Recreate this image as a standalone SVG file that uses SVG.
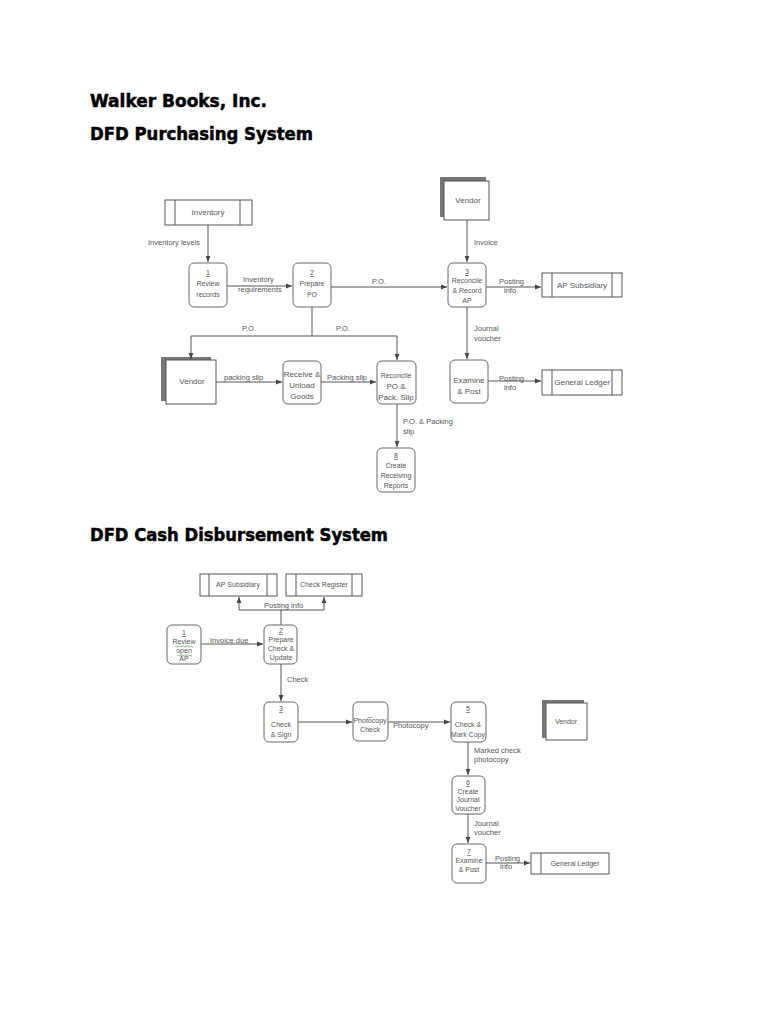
<svg xmlns="http://www.w3.org/2000/svg" width="768" height="1024" viewBox="0 0 768 1024">
<defs>
<marker id="ah" viewBox="0 0 10 10" refX="10" refY="5" markerWidth="6" markerHeight="6" orient="auto" markerUnits="userSpaceOnUse">
<path d="M0,1 L10,5 L0,9 z" fill="#444"/>
</marker>
</defs>
<style>
.title{font-family:"DejaVu Sans","Liberation Sans",sans-serif;font-weight:bold;font-size:17px;fill:#000;stroke:#000;stroke-width:0.5}
.p{fill:#fff;stroke:#666;stroke-width:1}
.s{fill:#fff;stroke:#555;stroke-width:1}
.sl{stroke:#555;stroke-width:1}
.sh{fill:#777}
.t{font-family:"Liberation Sans",Arial,sans-serif;font-size:7px;fill:#555;text-anchor:middle}
.ts{font-family:"Liberation Sans",Arial,sans-serif;font-size:8px;fill:#555;text-anchor:middle}
.l{font-family:"Liberation Sans",Arial,sans-serif;font-size:7.5px;fill:#555}
.c{fill:none;stroke:#555;stroke-width:1}
.ca{fill:none;stroke:#555;stroke-width:1;marker-end:url(#ah)}
.u{text-decoration:underline}
</style>
<rect width="768" height="1024" fill="#fff"/>
<text class="title" x="90" y="107" textLength="177" lengthAdjust="spacingAndGlyphs">Walker Books, Inc.</text>
<text class="title" x="90" y="140" textLength="223" lengthAdjust="spacingAndGlyphs">DFD Purchasing System</text>
<text class="title" x="90" y="541" textLength="298" lengthAdjust="spacingAndGlyphs">DFD Cash Disbursement System</text>

<!-- Purchasing nodes -->
<g id="inventory"><rect class="s" x="165" y="200" width="87" height="25"/><line class="sl" x1="175" y1="200" x2="175" y2="225"/><line class="sl" x1="240" y1="200" x2="240" y2="225"/><text class="ts" x="208" y="215">Inventory</text></g>
<g id="p1"><rect class="p" x="189" y="263" width="38" height="44" rx="5"/><text class="t u" x="208" y="275">1</text><text class="t" x="208" y="286">Review</text><text class="t" x="208" y="297">records</text></g>
<g id="p2"><rect class="p" x="293" y="263" width="38" height="44" rx="5"/><text class="t u" x="312" y="275">2</text><text class="t" x="312" y="286">Prepare</text><text class="t" x="312" y="297">PO</text></g>
<g id="vendor1"><rect class="sh" x="440" y="177" width="46" height="40"/><rect class="s" x="444" y="181" width="45" height="39"/><text class="ts" x="468" y="203">Vendor</text></g>
<g id="p3"><rect class="p" x="448" y="263" width="38" height="44" rx="5"/><text class="t u" x="467" y="274">3</text><text class="t" x="467" y="283">Reconcile</text><text class="t" x="467" y="293">&amp; Record</text><text class="t" x="467" y="303">AP</text></g>
<g id="apsub1"><rect class="s" x="542" y="273" width="80" height="24"/><line class="sl" x1="552" y1="273" x2="552" y2="297"/><line class="sl" x1="612" y1="273" x2="612" y2="297"/><text class="ts" x="582" y="288">AP Subsidiary</text></g>
<g id="exam1"><rect class="p" x="450" y="360" width="38" height="43" rx="5"/><text class="ts" x="469" y="383">Examine</text><text class="ts" x="469" y="394">&amp; Post</text></g>
<g id="gl1"><rect class="s" x="542" y="370" width="80" height="25"/><line class="sl" x1="552" y1="370" x2="552" y2="395"/><line class="sl" x1="612" y1="370" x2="612" y2="395"/><text class="ts" x="582" y="385">General Ledger</text></g>
<g id="vendor2"><rect class="sh" x="161" y="357" width="50" height="44"/><rect class="s" x="166" y="360" width="50" height="44"/><text class="ts" x="192" y="384">Vendor</text></g>
<g id="receive"><rect class="p" x="283" y="361" width="38" height="43" rx="5"/><text class="ts" x="302" y="377">Receive &amp;</text><text class="ts" x="302" y="388">Unload</text><text class="ts" x="302" y="399">Goods</text></g>
<g id="recpo"><rect class="p" x="377" y="361" width="39" height="43" rx="5"/><text class="t" x="396" y="378">Reconcile</text><text class="ts" x="396" y="389">PO &amp;</text><text class="ts" x="396" y="400">Pack. Slip</text></g>
<g id="p8"><rect class="p" x="377" y="448" width="38" height="44" rx="5"/><text class="t u" x="396" y="458">8</text><text class="t" x="396" y="468">Create</text><text class="t" x="396" y="478">Receiving</text><text class="t" x="396" y="488">Reports</text></g>

<!-- Cash nodes -->
<g id="apsub2"><rect class="s" x="200" y="574" width="77" height="22"/><line class="sl" x1="209" y1="574" x2="209" y2="596"/><line class="sl" x1="267" y1="574" x2="267" y2="596"/><text class="t" x="238" y="587">AP Subsidiary</text></g>
<g id="checkreg"><rect class="s" x="286" y="574" width="76" height="22"/><line class="sl" x1="296" y1="574" x2="296" y2="596"/><line class="sl" x1="352" y1="574" x2="352" y2="596"/><text class="t" x="324" y="587">Check Register</text></g>
<g id="c1"><rect class="p" x="167" y="625" width="34" height="39" rx="5"/><text class="t u" x="184" y="635">1</text><text class="t" x="184" y="644">Review</text><text class="t" x="184" y="653">open</text><text class="t" x="184" y="661">AP</text><path d="M175,646 l2,1 l2,-1 l2,1 l2,-1 l2,1 l2,-1 l2,1 l2,-1 l2,1 M178,655 l2,1 l2,-1 l2,1 l2,-1 l2,1 l2,-1 l2,1" fill="none" stroke="#5a5" stroke-width="0.7"/></g>
<g id="c2"><rect class="p" x="264" y="625" width="33" height="39" rx="5"/><text class="t u" x="281" y="633">2</text><text class="t" x="281" y="642">Prepare</text><text class="t" x="281" y="651">Check &amp;</text><text class="t" x="281" y="660">Update</text></g>
<g id="c3"><rect class="p" x="264" y="702" width="34" height="40" rx="5"/><text class="t u" x="281" y="711">3</text><text class="t" x="281" y="727">Check</text><text class="t" x="281" y="737">&amp; Sign</text></g>
<g id="c4"><rect class="p" x="353" y="702" width="35" height="39" rx="5"/><text class="t" x="370" y="716">_</text><text class="t" x="370" y="723">Photocopy</text><text class="t" x="370" y="732">Check</text></g>
<g id="c5"><rect class="p" x="451" y="702" width="35" height="40" rx="5"/><text class="t u" x="468" y="711">5</text><text class="t" x="468" y="727">Check &amp;</text><text class="t" x="468" y="737">Mark Copy</text></g>
<g id="vendor3"><rect class="sh" x="542" y="700" width="42" height="38"/><rect class="s" x="546" y="703" width="41" height="37"/><text class="t" x="566" y="724">Vendor</text></g>
<g id="c6"><rect class="p" x="452" y="776" width="33" height="38" rx="5"/><text class="t u" x="468" y="785">6</text><text class="t" x="468" y="794">Create</text><text class="t" x="468" y="802">Journal</text><text class="t" x="468" y="811">Voucher</text></g>
<g id="c7"><rect class="p" x="452" y="844" width="34" height="39" rx="5"/><text class="t u" x="469" y="854">7</text><text class="t" x="469" y="863">Examine</text><text class="t" x="469" y="872">&amp; Post</text></g>
<g id="gl2"><rect class="s" x="531" y="853" width="78" height="21"/><line class="sl" x1="541" y1="853" x2="541" y2="874"/><text class="t" x="575" y="866">General Ledger</text></g>

<!-- connectors -->
<g id="connectors">
<path class="ca" d="M208,225 V262"/>
<path class="ca" d="M227,286 H292"/>
<path class="ca" d="M331,287 H447"/>
<path class="ca" d="M467,220 V262"/>
<path class="ca" d="M486,287 H541"/>
<path class="ca" d="M467,307 V359"/>
<path class="ca" d="M488,381 H541"/>
<path class="c" d="M312,307 V336"/>
<path class="ca" d="M191,336 H397 V360"/>
<path class="ca" d="M191,336 V359"/>
<path class="ca" d="M216,382 H282"/>
<path class="ca" d="M321,382 H376"/>
<path class="ca" d="M397,404 V447"/>
<path class="c" d="M281,625 V610"/>
<path class="ca" d="M239,610 H324 V597"/>
<path class="ca" d="M239,610 V597"/>
<path class="ca" d="M201,644 H263"/>
<path class="ca" d="M281,664 V701"/>
<path class="ca" d="M298,722 H352"/>
<path class="ca" d="M388,722 H450"/>
<path class="ca" d="M468,742 V775"/>
<path class="ca" d="M468,814 V843"/>
<path class="ca" d="M486,863 H530"/>
</g>

<!-- labels -->
<g id="labels">
<text class="l" x="148" y="245">Inventory levels</text>
<text class="l" x="243" y="282">Inventory</text>
<text class="l" x="238" y="292">requirements</text>
<text class="l" x="372" y="284">P.O.</text>
<text class="l" x="474" y="245">Invoice</text>
<text class="l" x="499" y="284">Posting</text>
<text class="l" x="504" y="293">info</text>
<text class="l" x="474" y="331">Journal</text>
<text class="l" x="474" y="341">voucher</text>
<text class="l" x="499" y="381">Posting</text>
<text class="l" x="504" y="390">info</text>
<text class="l" x="242" y="331">P.O.</text>
<text class="l" x="336" y="331">P.O.</text>
<text class="l" x="224" y="380">packing slip</text>
<text class="l" x="327" y="380">Packing slip</text>
<text class="l" x="403" y="424">P.O. &amp; Packing</text>
<text class="l" x="403" y="434">slip</text>
<text class="l" x="264" y="608" font-size="7">Posting info</text>
<text class="l" x="210" y="643" font-size="7">Invoice due</text>
<text class="l" x="287" y="682" font-size="7">Check</text>
<text class="l" x="393" y="728" font-size="7">Photocopy</text>
<text class="l" x="474" y="753" font-size="6.5">Marked check</text>
<text class="l" x="474" y="762" font-size="6.5">photocopy</text>
<text class="l" x="474" y="826" font-size="6.5">Journal</text>
<text class="l" x="474" y="835" font-size="6.5">voucher</text>
<text class="l" x="495" y="861" font-size="6.5">Posting</text>
<text class="l" x="500" y="869" font-size="6.5">info</text>
</g>
</svg>
